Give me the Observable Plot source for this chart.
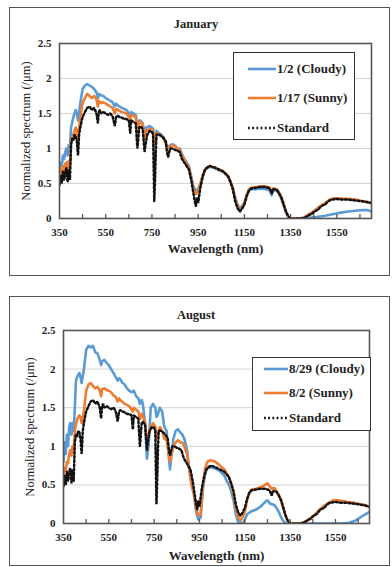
<!DOCTYPE html>
<html><head><meta charset="utf-8">
<script src="https://cdn.jsdelivr.net/npm/d3@7"></script>
<script src="https://cdn.jsdelivr.net/npm/@observablehq/plot@0.6"></script>
<style>
body{margin:0;background:#fff;}
#page{position:relative;width:392px;height:567px;overflow:hidden;font-family:"Liberation Serif","Times New Roman","DejaVu Serif",serif;color:#222;}
#page svg, #page svg text{font-family:"Liberation Serif","Times New Roman","DejaVu Serif",serif !important;}
.panel{position:absolute;left:9px;width:381px;border:1.5px solid #555;box-sizing:border-box;}
.title{position:absolute;left:0;width:392px;text-align:center;font-weight:bold;font-size:12.5px;}
.legend{position:absolute;border:1.5px solid #333;background:#fff;box-sizing:border-box;}
.row{position:absolute;left:0;height:14px;display:flex;align-items:center;font-size:13px;font-weight:bold;white-space:nowrap;}
.row svg{display:block;margin-right:1px;}
</style></head>
<body><div id="page"></div>
<script>
// ---- data (wavelength nm, normalized spectrum /µm) ----
const standard = [[350,0.48],[355,0.62],[360,0.50],[365,0.68],[370,0.55],[375,0.66],[380,0.72],[385,0.52],[390,0.70],[395,0.55],[400,1.05],[405,1.15],[410,1.12],[415,1.2],[420,1.18],[425,1.1],[430,0.9],[435,1.2],[440,1.3],[445,1.38],[450,1.45],[460,1.52],[470,1.58],[480,1.6],[490,1.55],[500,1.58],[510,1.5],[516,1.36],[520,1.52],[525,1.55],[530,1.5],[540,1.52],[550,1.5],[560,1.48],[570,1.5],[580,1.46],[589,1.32],[595,1.45],[600,1.47],[610,1.45],[620,1.44],[630,1.42],[640,1.42],[650,1.4],[656,1.22],[660,1.4],[670,1.38],[680,1.36],[687,1.0],[690,1.1],[695,1.3],[700,1.32],[710,1.28],[718,0.95],[722,1.05],[730,1.2],[740,1.25],[750,1.24],[755,1.2],[760,0.25],[763,0.5],[767,1.0],[770,1.2],[780,1.2],[790,1.18],[800,1.15],[810,1.1],[815,0.95],[820,0.88],[825,0.95],[830,1.0],[840,1.0],[850,0.98],[860,0.97],[870,0.95],[880,0.85],[890,0.8],[900,0.75],[910,0.7],[920,0.55],[930,0.35],[935,0.25],[940,0.18],[945,0.3],[950,0.22],[960,0.45],[970,0.6],[980,0.7],[990,0.73],[1000,0.75],[1020,0.73],[1040,0.7],[1060,0.67],[1080,0.6],[1090,0.52],[1100,0.42],[1110,0.25],[1120,0.15],[1130,0.1],[1140,0.14],[1150,0.2],[1160,0.32],[1170,0.4],[1180,0.43],[1200,0.44],[1220,0.45],[1240,0.45],[1260,0.43],[1268,0.36],[1275,0.42],[1290,0.41],[1300,0.36],[1310,0.3],[1320,0.2],[1330,0.1],[1340,0.03],[1350,0.0],[1370,0.0],[1390,0.0],[1410,0.01],[1420,0.03],[1430,0.05],[1440,0.06],[1450,0.09],[1460,0.11],[1470,0.13],[1480,0.17],[1490,0.19],[1500,0.2],[1510,0.24],[1520,0.26],[1530,0.27],[1550,0.28],[1570,0.27],[1600,0.27],[1620,0.26],[1650,0.25],[1670,0.24],[1700,0.22]];

const janCloudy = [[350,0.65],[355,0.8],[360,0.75],[365,0.9],[370,0.85],[375,0.95],[380,1.0],[385,0.9],[390,1.05],[395,1.0],[400,1.3],[410,1.45],[420,1.55],[425,1.5],[430,1.4],[440,1.65],[450,1.85],[460,1.9],[470,1.92],[480,1.9],[490,1.88],[500,1.85],[510,1.8],[516,1.72],[520,1.78],[530,1.76],[540,1.75],[550,1.72],[560,1.7],[570,1.68],[580,1.66],[589,1.6],[595,1.64],[600,1.62],[620,1.58],[640,1.55],[656,1.48],[660,1.52],[680,1.48],[687,1.3],[695,1.4],[700,1.4],[710,1.36],[718,1.2],[725,1.3],[740,1.32],[750,1.3],[755,1.28],[760,1.15],[765,1.2],[770,1.25],[780,1.22],[790,1.2],[800,1.16],[815,1.05],[820,1.0],[830,1.05],[840,1.06],[850,1.04],[860,1.0],[870,1.0],[880,0.92],[890,0.85],[900,0.8],[910,0.75],[920,0.6],[930,0.45],[940,0.4],[950,0.42],[960,0.5],[970,0.62],[980,0.7],[990,0.72],[1000,0.74],[1020,0.72],[1040,0.69],[1060,0.66],[1080,0.6],[1090,0.52],[1100,0.44],[1110,0.3],[1120,0.2],[1130,0.15],[1140,0.18],[1150,0.22],[1160,0.33],[1170,0.4],[1180,0.42],[1200,0.42],[1220,0.43],[1240,0.42],[1260,0.4],[1268,0.33],[1275,0.4],[1290,0.4],[1300,0.35],[1310,0.28],[1320,0.18],[1330,0.08],[1340,0.02],[1350,0.0],[1400,0.0],[1430,0.01],[1460,0.02],[1500,0.04],[1530,0.06],[1560,0.08],[1600,0.1],[1630,0.11],[1660,0.12],[1680,0.12],[1700,0.1]];

const janSunny = [[350,0.58],[355,0.7],[360,0.6],[365,0.75],[370,0.68],[375,0.78],[380,0.8],[385,0.72],[390,0.82],[395,0.75],[400,1.1],[410,1.2],[420,1.3],[425,1.25],[430,1.15],[440,1.45],[450,1.65],[460,1.72],[470,1.78],[480,1.75],[490,1.72],[500,1.75],[510,1.7],[516,1.6],[520,1.68],[530,1.65],[540,1.66],[550,1.64],[560,1.62],[570,1.6],[580,1.58],[589,1.5],[595,1.56],[600,1.56],[620,1.52],[640,1.5],[656,1.42],[660,1.48],[680,1.45],[687,1.25],[695,1.38],[700,1.38],[710,1.34],[718,1.15],[725,1.25],[740,1.28],[750,1.27],[755,1.25],[760,1.05],[765,1.15],[770,1.22],[780,1.2],[790,1.18],[800,1.15],[815,1.02],[820,0.98],[830,1.03],[840,1.05],[850,1.03],[860,1.0],[870,0.98],[880,0.9],[890,0.84],[900,0.78],[910,0.72],[920,0.58],[930,0.42],[940,0.35],[950,0.38],[960,0.5],[970,0.62],[980,0.7],[990,0.73],[1000,0.75],[1020,0.73],[1040,0.7],[1060,0.67],[1080,0.6],[1090,0.52],[1100,0.43],[1110,0.28],[1120,0.18],[1130,0.12],[1140,0.16],[1150,0.22],[1160,0.34],[1170,0.42],[1180,0.44],[1200,0.45],[1220,0.46],[1240,0.46],[1260,0.44],[1268,0.37],[1275,0.43],[1290,0.42],[1300,0.37],[1310,0.3],[1320,0.2],[1330,0.1],[1340,0.03],[1350,0.0],[1400,0.0],[1420,0.04],[1440,0.08],[1460,0.13],[1480,0.18],[1500,0.22],[1520,0.27],[1540,0.29],[1560,0.29],[1580,0.28],[1600,0.28],[1630,0.27],[1660,0.25],[1680,0.24],[1700,0.22]];

const augCloudy = [[350,0.8],[355,1.05],[360,0.9],[365,1.15],[370,1.0],[375,1.25],[380,1.3],[385,1.15],[390,1.3],[395,1.2],[400,1.5],[405,1.85],[410,1.9],[420,1.95],[425,1.9],[430,1.82],[440,2.0],[450,2.25],[460,2.3],[470,2.28],[480,2.3],[490,2.22],[500,2.2],[510,2.12],[516,2.05],[520,2.1],[530,2.12],[540,2.08],[550,2.05],[560,2.0],[570,1.95],[580,1.9],[589,1.85],[595,1.88],[600,1.87],[610,1.82],[620,1.8],[630,1.75],[640,1.72],[650,1.7],[660,1.72],[670,1.65],[680,1.62],[687,1.55],[695,1.6],[700,1.55],[710,1.3],[718,0.84],[725,1.0],[735,1.5],[745,1.55],[755,1.5],[760,1.38],[765,1.4],[775,1.5],[785,1.45],[795,1.25],[805,1.2],[815,0.85],[820,0.7],[825,0.85],[835,1.1],[845,1.2],[855,1.22],[865,1.18],[875,1.15],[885,1.08],[895,0.95],[905,0.7],[915,0.5],[925,0.4],[935,0.15],[945,0.05],[955,0.08],[965,0.45],[975,0.65],[985,0.72],[1000,0.73],[1020,0.71],[1040,0.68],[1060,0.62],[1070,0.55],[1080,0.5],[1090,0.42],[1100,0.3],[1110,0.12],[1120,0.02],[1140,0.0],[1150,0.05],[1160,0.12],[1180,0.16],[1200,0.18],[1220,0.22],[1240,0.28],[1250,0.3],[1260,0.26],[1270,0.25],[1280,0.24],[1290,0.2],[1300,0.15],[1310,0.08],[1320,0.03],[1330,0.0],[1400,0.0],[1500,0.0],[1580,0.0],[1610,0.01],[1640,0.04],[1670,0.1],[1700,0.15]];

const augSunny = [[350,0.62],[355,0.72],[360,0.68],[365,0.8],[370,0.78],[375,0.9],[380,0.95],[385,0.88],[390,1.0],[395,0.95],[400,1.2],[410,1.35],[420,1.4],[425,1.38],[430,1.3],[440,1.45],[450,1.72],[460,1.8],[470,1.82],[480,1.78],[490,1.75],[500,1.77],[510,1.72],[516,1.65],[520,1.74],[530,1.75],[540,1.73],[550,1.72],[560,1.7],[570,1.66],[580,1.64],[589,1.58],[595,1.62],[600,1.6],[620,1.55],[640,1.52],[656,1.45],[660,1.5],[680,1.45],[687,1.35],[695,1.42],[700,1.4],[710,1.3],[718,1.05],[725,1.15],[735,1.25],[745,1.3],[755,1.25],[760,1.1],[765,1.15],[775,1.25],[785,1.2],[795,1.1],[805,1.08],[815,0.88],[820,0.8],[825,0.88],[835,1.0],[845,1.05],[855,1.08],[865,1.05],[875,1.05],[885,0.98],[895,0.9],[905,0.7],[915,0.5],[925,0.38],[935,0.2],[945,0.1],[955,0.12],[965,0.5],[975,0.72],[985,0.8],[1000,0.82],[1020,0.8],[1040,0.75],[1060,0.7],[1070,0.65],[1080,0.6],[1090,0.5],[1100,0.38],[1110,0.2],[1120,0.08],[1130,0.04],[1140,0.08],[1150,0.15],[1160,0.3],[1170,0.4],[1180,0.44],[1200,0.45],[1220,0.47],[1240,0.5],[1250,0.52],[1260,0.48],[1270,0.45],[1280,0.46],[1290,0.42],[1300,0.37],[1310,0.3],[1320,0.2],[1330,0.1],[1340,0.03],[1350,0.0],[1400,0.0],[1420,0.03],[1440,0.07],[1460,0.12],[1480,0.18],[1500,0.23],[1520,0.27],[1540,0.3],[1560,0.3],[1580,0.29],[1600,0.28],[1630,0.27],[1660,0.25],[1680,0.24],[1700,0.21]];

const xLabelTicks = [350, 550, 750, 950, 1150, 1350, 1550];
const xMinorTicks = [450, 550, 650, 750, 850, 950, 1050, 1150, 1250, 1350, 1450, 1550, 1650];
const yTicks = [0, 0.5, 1, 1.5, 2, 2.5];
const yGrid = [0.5, 1, 1.5, 2];
const janLabels = ["1/2 (Cloudy)", "1/17 (Sunny)", "Standard"];
const augLabels = ["8/29 (Cloudy)", "8/2 (Sunny)", "Standard"];
const colors = ["#5b9bd5", "#ed7d31", "#111"];
const dotted = "1.8 2.4";

// ---- drawing ----
const page = document.getElementById("page");
const serif = '"Liberation Serif", "Times New Roman", "DejaVu Serif", serif';

function makeChart(cloudy, sunny, height, mt, mb, ml, mr, xLabOff) {
  const lineOpts = (c) => ({x: d => d[0], y: d => d[1], stroke: c, strokeWidth: 2.6, clip: true, strokeLinejoin: "round"});
  const svg = Plot.plot({
    width: 392, height,
    marginTop: mt, marginBottom: mb, marginLeft: ml, marginRight: mr,
    style: {fontFamily: serif, fontSize: "11px", fontWeight: "bold", color: "#222", background: "transparent", overflow: "visible"},
    x: {domain: [350, 1700]},
    y: {domain: [0, 2.5]},
    marks: [
      Plot.gridY(yGrid, {stroke: "#d4d4d4", strokeOpacity: 1, strokeWidth: 1}),
      Plot.line(cloudy, lineOpts(colors[0])),
      Plot.line(sunny, lineOpts(colors[1])),
      Plot.line(standard, {...lineOpts(colors[2]), strokeWidth: 2.5, strokeDasharray: dotted, strokeLinejoin: "miter"}),
      Plot.axisX(xMinorTicks, {tickSize: -4, tickFormat: () => "", stroke: "#555", strokeWidth: 1.3, label: null}),
      Plot.axisX(xLabelTicks, {tickSize: 0, tickPadding: 10, tickFormat: d => String(d), label: "Wavelength (nm)", labelArrow: "none", labelAnchor: "center", labelOffset: xLabOff}),
      Plot.axisY(yTicks, {tickSize: 0, tickPadding: 8, tickFormat: d => String(d), label: "Normalized spectrum (/μm)", labelArrow: "none", labelAnchor: "center", labelOffset: 38}),
      Plot.frame({stroke: "#555", strokeWidth: 1.6})
    ]
  });
  svg.querySelectorAll('[aria-label="x-axis label"] text').forEach(t => { t.textContent = t.textContent.replace(/\s*[→←↑↓]\s*/g, ""); t.style.fontSize = "13px"; });
  svg.querySelectorAll('[aria-label="y-axis label"] text').forEach(t => { t.textContent = t.textContent.replace(/\s*[→←↑↓]\s*/g, ""); t.style.fontSize = "12.5px"; t.style.fontWeight = "normal"; });
  return svg;
}

function addPanel(top, h) {
  const p = document.createElement("div");
  p.className = "panel"; p.style.top = top + "px"; p.style.height = h + "px";
  page.appendChild(p);
}
function addTitle(text, top) {
  const t = document.createElement("div");
  t.className = "title"; t.style.top = top + "px"; t.textContent = text;
  page.appendChild(t);
}
function addLegend(labels, box, lineX0, lineLen, rows) {
  const lg = document.createElement("div");
  lg.className = "legend";
  Object.assign(lg.style, {left: box[0] + "px", top: box[1] + "px", width: box[2] + "px", height: box[3] + "px"});
  labels.forEach((lab, i) => {
    const r = document.createElement("div");
    r.className = "row";
    r.style.left = (lineX0 - box[0]) + "px";
    r.style.top = (rows[i] - box[1] - 7) + "px";
    const dash = i === 2 ? `stroke-dasharray="${dotted}"` : '';
    r.innerHTML = `<svg width="${lineLen}" height="6"><line x1="0" y1="3" x2="${lineLen}" y2="3" stroke="${colors[i]}" stroke-width="2.6" ${dash}/></svg><span>${lab}</span>`;
    lg.appendChild(r);
  });
  page.appendChild(lg);
}

addPanel(7, 269);
addPanel(296, 270);

const c1 = makeChart(janCloudy, janSunny, 270, 43, 52, 59, 21, 34);
c1.style.position = "absolute"; c1.style.top = "0px"; c1.style.left = "0px";
page.appendChild(c1);
const c2 = makeChart(augCloudy, augSunny, 282, 45, 44, 63, 23, 36);
c2.style.position = "absolute"; c2.style.top = "285px"; c2.style.left = "0px";
page.appendChild(c2);

addTitle("January", 17);
addTitle("August", 308);

addLegend(janLabels, [233, 52, 122, 88], 247, 28, [68, 97, 127]);
addLegend(augLabels, [252, 357, 119, 74], 263, 24, [368, 392, 417]);
</script>
</body></html>
